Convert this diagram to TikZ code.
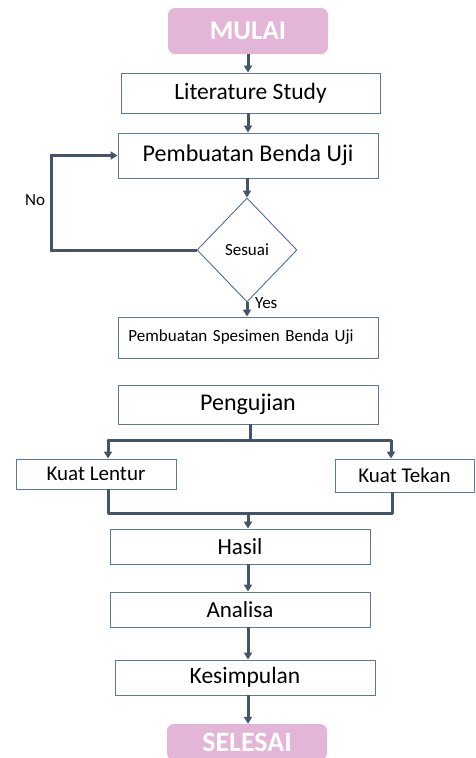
\documentclass[tikz,border=0pt]{standalone}
\usepackage{fontspec}
\setmainfont{Carlito}
\usetikzlibrary{shapes.geometric,arrows.meta}
\definecolor{arrowc}{HTML}{44546A}
\definecolor{boxc}{HTML}{5B77A8}
\definecolor{pinkc}{HTML}{E3B5D6}
\newcommand{\fsz}[1]{\fontsize{#1}{#1}\selectfont}
\tikzset{
  box/.style={draw=boxc, line width=0.9pt, fill=white, inner sep=0pt, text=black},
  term/.style={fill=pinkc, rounded corners=7pt, inner sep=0pt, text=white},
  conn/.style={draw=arrowc, line width=3pt},
  arr/.style={conn, -{Triangle[length=7pt,width=8pt]}},
  lbl/.style={inner sep=0pt, font=\fsz{17}}
}
\begin{document}
\begin{tikzpicture}[x=1pt,y=-1pt]
\useasboundingbox (0,0) rectangle (475,758);
\node[term, minimum width=160pt, minimum height=46pt, font=\fsz{27}\bfseries] (start) at (248,31) {MULAI};
\node[box, minimum width=259pt, minimum height=40pt, font=\fsz{23.5}] (lit) at (250.5,93) {Literature Study};
\node[box, minimum width=260pt, minimum height=45pt, font=\fsz{24}] (pbu) at (248,155.5) {Pembuatan Benda Uji};
\node[box, draw=boxc!90!black, shape=diamond, aspect=1, minimum width=100pt, minimum height=104pt, font=\fsz{17}] (dia) at (247,250) {Sesuai};
\node[box, anchor=west, text width=240pt, align=left, inner xsep=10pt, minimum height=41pt, font=\fsz{17}] (spec) at (118,337.5) {Pembuatan Spesimen Benda Uji};
\node[box, minimum width=260pt, minimum height=39pt, font=\fsz{24}] (peng) at (248,404.5) {Pengujian};
\node[box, minimum width=160pt, minimum height=30pt, font=\fsz{21}] (kl) at (96,474) {Kuat Lentur};
\node[box, minimum width=139pt, minimum height=33pt, font=\fsz{21}] (kt) at (404.5,475.5) {Kuat Tekan};
\node[box, minimum width=260pt, minimum height=35pt, font=\fsz{23}] (hasil) at (240,546.5) {Hasil};
\node[box, minimum width=260pt, minimum height=35pt, font=\fsz{23}] (anal) at (240,609.5) {Analisa};
\node[box, minimum width=260pt, minimum height=35pt, font=\fsz{23.5}] (kes) at (245,677.5) {Kesimpulan};
\node[term, minimum width=160pt, minimum height=36pt, font=\fsz{28}\bfseries] (end) at (247,742) {SELESAI};

\node[lbl, anchor=west] (yes) at (255,303) {Yes};
\node[lbl] (no) at (35,200) {No};

\coordinate (c1) at (248,0);
\draw[arr] (start.south -| c1) -- (lit.north -| c1);
\draw[arr] (lit.south -| c1) -- (pbu.north -| c1);
\draw[arr] (pbu.south -| dia) -- (dia.north);
\draw[arr] (dia.south) -- (spec.north -| dia);
\coordinate (nox) at (51,0);
\draw[arr] (dia.west) -- (dia.west -| nox) -- (pbu.west -| nox) -- (pbu.west);

\coordinate (bl) at (108,440);
\coordinate (br) at (391,440);
\coordinate (bm) at (250,440);
\draw[conn] (peng.south -| bm) -- (bm);
\draw[conn, line cap=round] (bl) -- (br);
\draw[arr] (bl) -- (kl.north -| bl);
\draw[arr] (br) -- (kt.north -| br);

\coordinate (ml) at (108,513);
\coordinate (mr) at (392,513);
\coordinate (mm) at (248,513);
\draw[conn, line join=round] (kl.south -| ml) -- (ml) -- (mr) -- (kt.south -| mr);
\draw[arr] (mm) -- (hasil.north -| mm);
\draw[arr] (hasil.south -| c1) -- (anal.north -| c1);
\draw[arr] (anal.south -| c1) -- (kes.north -| c1);
\draw[arr] (kes.south -| c1) -- (end.north -| c1);
\end{tikzpicture}
\end{document}
